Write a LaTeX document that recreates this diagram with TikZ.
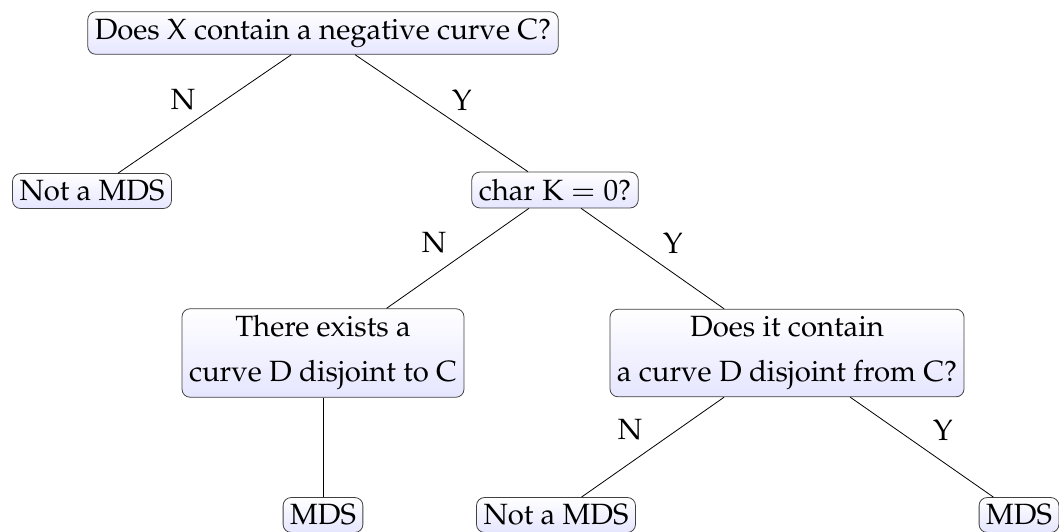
\documentclass[tikz,border=0pt]{standalone}
\usepackage[T1]{fontenc}
\usepackage{mathpazo}
\begin{document}
\begin{tikzpicture}[x=1pt,y=-1pt,
  box/.style={draw=black!75, line width=0.8pt, rounded corners=8pt,
    top color=white, bottom color=blue!10, inner xsep=7pt, inner ysep=7pt,
    align=center, font=\fontsize{29.3}{45}\selectfont},
  lbl/.style={font=\fontsize{29.3}{35}\selectfont, inner sep=0pt},
  edge/.style={draw=black, line width=0.8pt}]
\useasboundingbox (0,0) rectangle (1059,531);
\node[box] (top) at (323,33) {Does X contain a negative curve C?};
\node[box] (notA) at (92,191) {Not a MDS};
\node[box] (char) at (555,190) {char K $=0$?};
\node[box] (exists) at (323,353) {There exists a\\curve D disjoint to C};
\node[box] (does) at (787,353) {Does it contain\\a curve D disjoint from C?};
\node[box] (mdsA) at (323,515) {MDS};
\node[box] (notB) at (556,515) {Not a MDS};
\node[box] (mdsB) at (1019,515) {MDS};
\draw[edge] (top) -- (notA);
\draw[edge] (top) -- (char);
\draw[edge] (char) -- (exists);
\draw[edge] (char) -- (does);
\draw[edge] (exists) -- (mdsA);
\draw[edge] (does) -- (notB);
\draw[edge] (does) -- (mdsB);
\node[lbl] (l1) at (183,100) {N};
\node[lbl] (l2) at (462,100) {Y};
\node[lbl] (l3) at (434,243) {N};
\node[lbl] (l4) at (673,243) {Y};
\node[lbl] (l5) at (630,430) {N};
\node[lbl] (l6) at (943,430) {Y};
\end{tikzpicture}
\end{document}
